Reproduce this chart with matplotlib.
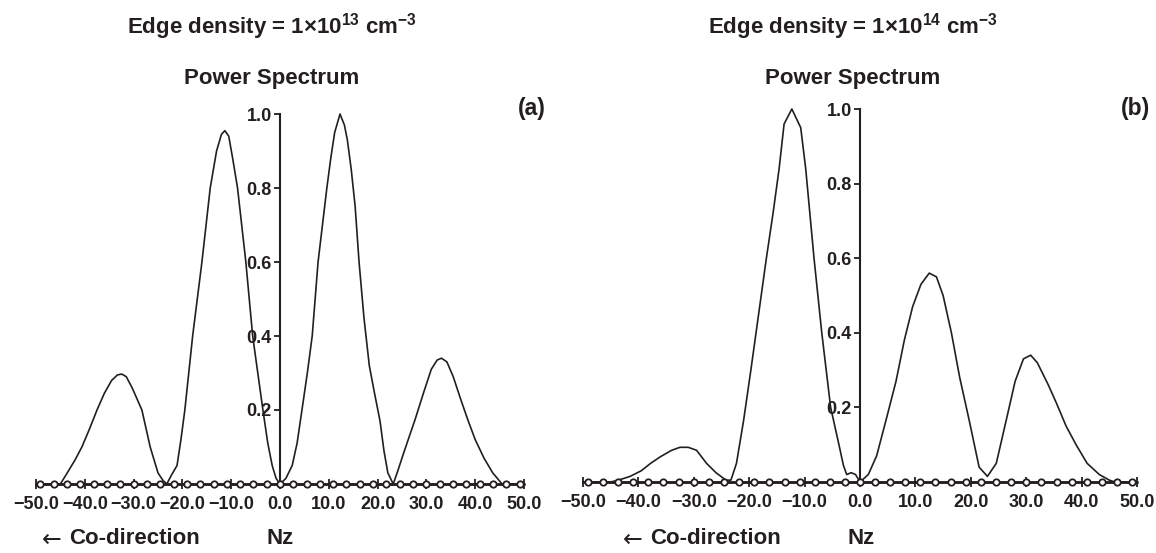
"""
Power spectrum vs Nz for two edge densities, panels (a) and (b).
"""
import matplotlib
matplotlib.use("Agg")
import matplotlib.pyplot as plt

plt.rcParams["font.family"] = ["Liberation Sans", "DejaVu Sans"]
plt.rcParams["font.weight"] = "bold"
plt.rcParams["mathtext.fontset"] = "custom"
plt.rcParams["mathtext.rm"] = "Liberation Sans:bold"
plt.rcParams["mathtext.it"] = "Liberation Sans:bold"
plt.rcParams["mathtext.bf"] = "Liberation Sans:bold"

INK = "#231f20"

# --- data ---
# Nz grid of the zero (counter-direction) series drawn as circles on the axis
NZ_GRID = [-49.1, -46.4, -43.6, -40.9, -38.2, -35.5, -32.7, -30.0, -27.3, -24.6,
           -21.8, -19.1, -16.4, -13.6, -10.9, -8.2, -5.5, -2.7, 0.0,
           2.7, 5.5, 8.2, 10.9, 13.6, 16.4, 19.1, 21.8, 24.6, 27.3,
           30.0, 32.7, 35.5, 38.2, 40.9, 43.6, 46.4, 49.1]

# (a) edge density 1e13
A_NZ = [-50, -45, -43.6, -42, -40.6, -39, -37.5, -36, -34.5, -33.3, -32.4, -31.5,
        -30.3, -28.3, -26.6, -25, -24, -23.2,
        -22.2, -21.1, -20.3, -19.5, -17.9, -16, -14.3, -13, -12, -11.3, -10.5,
        -9.7, -8.7, -7, -5.6, -3.5, -2.5, -1.6, -0.8, 0,
        1.2, 2.5, 3.5, 4.5, 5.6, 6.6, 7.2, 7.8, 8.7, 9.6, 10.4, 11.2, 12.3,
        13.2, 13.8, 14.6, 15.4, 16.2, 17.2, 18.3, 19.3, 20.5, 21.3, 22.1, 23.2,
        24, 25.5, 27.7, 29.5, 31, 32.2, 33.1, 34.2, 35.5, 37, 38.5, 40, 41.8,
        43.6, 45.5, 50]
A_POWER = [0, 0, 0.03, 0.065, 0.1, 0.15, 0.2, 0.245, 0.28, 0.295, 0.297, 0.29,
           0.26, 0.2, 0.1, 0.03, 0.01, 0.0,
           0.025, 0.05, 0.12, 0.2, 0.4, 0.6, 0.8, 0.9, 0.945, 0.955, 0.94,
           0.88, 0.8, 0.6, 0.4, 0.2, 0.11, 0.05, 0.015, 0.0,
           0.015, 0.05, 0.11, 0.2, 0.3, 0.4, 0.5, 0.6, 0.7, 0.8, 0.88, 0.95, 1.0,
           0.97, 0.93, 0.85, 0.75, 0.6, 0.45, 0.32, 0.25, 0.17, 0.09, 0.03, 0.0,
           0.03, 0.09, 0.175, 0.25, 0.31, 0.335, 0.34, 0.33, 0.29, 0.23, 0.173,
           0.12, 0.07, 0.03, 0.0, 0]

# (b) edge density 1e14
B_NZ = [-50, -45, -43.6, -41.5, -39.5, -37.8, -36, -34, -32.5, -31, -29.5, -27.7,
        -26, -24.2, -23.3,
        -22.3, -21, -19.7, -18.3, -16.9, -15.7, -14.6, -13.7, -12.3, -10.7, -9.8,
        -8.3, -6.9, -5.3, -3.8, -3, -2.4, -1.6, -0.8, 0,
        1.5, 3, 4.7, 6.5, 8, 9.5, 11, 12.5, 13.8, 15, 16.5, 18, 19.7, 21.5, 23,
        24.6, 26.4, 28, 29.5, 30.8, 32, 34, 35.5, 37.2, 39, 41, 43.2, 45, 46, 50]
B_POWER = [0, 0, 0.005, 0.015, 0.03, 0.05, 0.068, 0.085, 0.093, 0.093, 0.085, 0.05,
           0.025, 0.005, 0.005,
           0.05, 0.166, 0.3, 0.45, 0.6, 0.72, 0.84, 0.96, 1.0, 0.95, 0.84,
           0.6, 0.4, 0.2, 0.1, 0.045, 0.02, 0.025, 0.02, 0.0,
           0.02, 0.07, 0.166, 0.27, 0.38, 0.47, 0.53, 0.56, 0.55, 0.5, 0.4, 0.28,
           0.166, 0.04, 0.015,
           0.05, 0.166, 0.27, 0.33, 0.34, 0.32, 0.26, 0.21, 0.15, 0.1, 0.05, 0.02,
           0.005, 0.0, 0]

X_TICKS = [-50, -40, -30, -20, -10, 0, 10, 20, 30, 40, 50]
Y_TICKS = [0.2, 0.4, 0.6, 0.8, 1.0]

W, H = 1156, 553
fig = plt.figure(figsize=(W / 100, H / 100), dpi=100)


def px_axes(x0, x1, y_top, y_zero):
    return fig.add_axes([x0 / W, 1 - y_zero / H, (x1 - x0) / W, (y_zero - y_top) / H])


def draw_panel(ax, nz, power):
    ax.plot(nz, power, color=INK, lw=1.2, clip_on=False, zorder=3)
    zeros = [0.0] * len(NZ_GRID)
    ax.plot(NZ_GRID, zeros, "-o", color=INK, lw=1.8, ms=4.6, mfc="white",
            mew=1.3, clip_on=False, zorder=4)
    ax.set_xlim(-50, 50)
    ax.set_ylim(0, 1)
    for s in ("top", "right"):
        ax.spines[s].set_visible(False)
    ax.spines["left"].set_position(("data", 0))
    ax.spines["left"].set_bounds(0, 1)
    ax.spines["left"].set_linewidth(1.5)
    ax.spines["bottom"].set_linewidth(1.8)
    ax.spines["left"].set_color(INK)
    ax.spines["bottom"].set_color(INK)
    ax.set_xticks(X_TICKS)
    ax.set_xticklabels([f"{t:.1f}".replace("-", "\u2212") for t in X_TICKS])
    ax.set_yticks(Y_TICKS)
    ax.set_yticklabels([f"{t:.1f}" for t in Y_TICKS])
    ax.tick_params(axis="x", direction="inout", length=7, width=1.3, pad=5,
                   labelsize=13, colors=INK)
    ax.tick_params(axis="y", direction="out", length=4, width=1.3, pad=2,
                   labelsize=13, colors=INK)
    ax.patch.set_alpha(0)


ax_a = px_axes(36, 524, 114, 484)
draw_panel(ax_a, A_NZ, A_POWER)
ax_b = px_axes(583, 1137, 109, 482)
draw_panel(ax_b, B_NZ, B_POWER)


def ftext(x, y, s, **kw):
    kw.setdefault("fontweight", "bold")
    fig.text(x / W, 1 - y / H, s, color=INK, **kw)


for cx, zero_x, label_x, exp in ((272, 280, 532, "13"), (853, 861, 1135, "14")):
    ftext(cx, 34, r"Edge density = 1$\times$10$^{%s}$ cm$^{\u22123}$".replace(
        r"\u2212", "\u2212") % exp, fontsize=16, ha="center", va="baseline")
    ftext(cx, 84, "Power Spectrum", fontsize=16, ha="center", va="baseline")
    ftext(label_x, 108, "(a)" if exp == "13" else "(b)", fontsize=16.5,
          ha="center", va="center")
    ftext(zero_x, 538, "Nz", fontsize=16, ha="center", va="center")

for arrow_x in (42, 623):
    ftext(arrow_x, 540, "\u2190", fontsize=17, ha="left", va="center",
          family="DejaVu Sans", fontweight="normal")
    ftext(arrow_x + 27, 538, "Co-direction", fontsize=16, ha="left", va="center")

fig.savefig("out.png", dpi=100)
